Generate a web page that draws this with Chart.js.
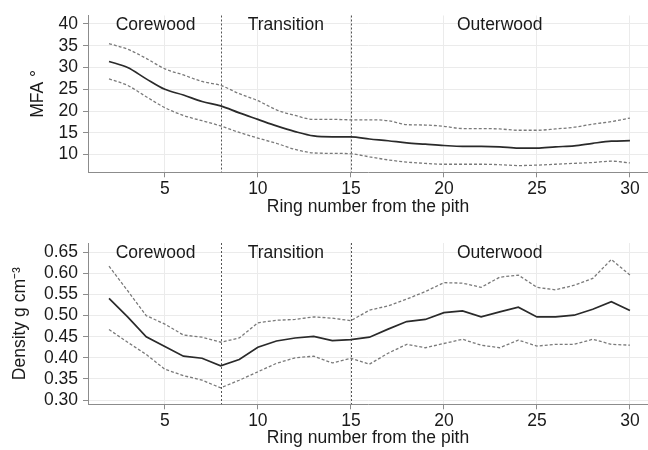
<!DOCTYPE html>
<html>
<head>
<meta charset="utf-8">
<script src="https://cdn.jsdelivr.net/npm/chart.js@4"></script>
<style>
  html, body { margin: 0; padding: 0; background: #fff; }
  .panel { position: relative; width: 648px; height: 225px; }
</style>
</head>
<body>
<div class="panel"><canvas id="mfaChart"></canvas></div>
<div class="panel"><canvas id="densityChart"></canvas></div>
<script>
// ring number from the pith (x values)
const rings = [2, 3, 4, 5, 6, 7, 8, 9, 10, 11, 12, 13, 14, 15, 16, 17, 18, 19, 20, 21, 22, 23, 24, 25, 26, 27, 28, 29, 30];

// microfibril angle, mean and band
const mfaMean  = [31.4, 30.0, 27.4, 25.0, 23.7, 22.2, 21.2, 19.6, 18.1, 16.6, 15.3, 14.3, 14.1, 14.1, 13.6, 13.2, 12.7, 12.4, 12.1, 11.9, 11.9, 11.8, 11.5, 11.5, 11.8, 12.0, 12.6, 13.1, 13.2];
const mfaUpper = [35.5, 34.2, 32.1, 29.7, 28.3, 26.8, 25.9, 24.0, 22.4, 20.3, 19.0, 18.1, 18.1, 18.0, 18.0, 17.8, 16.9, 16.8, 16.5, 16.0, 16.0, 15.9, 15.6, 15.6, 15.9, 16.3, 17.0, 17.6, 18.4];
const mfaLower = [27.4, 25.9, 23.3, 20.8, 19.0, 17.8, 16.6, 15.1, 13.8, 12.6, 11.2, 10.4, 10.3, 10.2, 9.5, 8.8, 8.3, 8.0, 7.8, 7.8, 7.8, 7.7, 7.5, 7.6, 7.8, 8.0, 8.2, 8.5, 8.1];

// density, mean and band
const densityMean  = [0.541, 0.497, 0.450, 0.427, 0.404, 0.399, 0.381, 0.396, 0.425, 0.440, 0.447, 0.451, 0.441, 0.443, 0.449, 0.468, 0.486, 0.491, 0.507, 0.511, 0.497, 0.509, 0.520, 0.497, 0.497, 0.501, 0.515, 0.533, 0.512];
const densityUpper = [0.617, 0.559, 0.500, 0.480, 0.454, 0.449, 0.437, 0.447, 0.483, 0.489, 0.491, 0.497, 0.494, 0.488, 0.513, 0.523, 0.539, 0.557, 0.578, 0.577, 0.567, 0.591, 0.596, 0.567, 0.561, 0.572, 0.588, 0.633, 0.596];
const densityLower = [0.467, 0.437, 0.408, 0.373, 0.358, 0.347, 0.329, 0.347, 0.367, 0.387, 0.400, 0.404, 0.388, 0.399, 0.385, 0.411, 0.432, 0.424, 0.434, 0.444, 0.430, 0.424, 0.442, 0.428, 0.432, 0.432, 0.444, 0.432, 0.430];

// tick labels
const xTicks = [5, 10, 15, 20, 25, 30];
const mfaTicks = [10, 15, 20, 25, 30, 35, 40];
const densityTicks = [0.30, 0.35, 0.40, 0.45, 0.50, 0.55, 0.60, 0.65];

// wood zones
const zoneNames = ['Corewood', 'Transition', 'Outerwood'];
const zoneCenters = [4.5, 11.5, 23];
const zoneBounds = [8, 15];

const FONT = 'Liberation Sans, Arial, Helvetica, sans-serif';
const font = { family: FONT, size: 17.5 };

// dashed zone borders and zone names
const zonePlugin = {
    id: 'zones',
    beforeDatasetsDraw(chart) {
        const { ctx, chartArea, scales: { x } } = chart;
        ctx.save();
        ctx.strokeStyle = '#555';
        ctx.lineWidth = 1;
        ctx.setLineDash([2, 2]);
        zoneBounds.forEach((b) => {
            const px = Math.round(x.getPixelForValue(b)) + 0.5;
            ctx.beginPath();
            ctx.moveTo(px, chartArea.top);
            ctx.lineTo(px, chartArea.bottom);
            ctx.stroke();
        });
        ctx.restore();
    },
    afterDatasetsDraw(chart, args, opts) {
        const { ctx, scales: { x, y } } = chart;
        const py = y.getPixelForValue(opts.labelAt);
        ctx.save();
        ctx.fillStyle = '#1a1a1a';
        ctx.font = `17.5px ${FONT}`;
        ctx.textAlign = 'center';
        ctx.textBaseline = 'middle';
        zoneNames.forEach((name, i) => {
            ctx.fillText(name, x.getPixelForValue(zoneCenters[i]), py + 1);
        });
        ctx.restore();
    }
};

const band = (data, solid) => ({
    data: rings.map((r, i) => ({ x: r, y: data[i] })),
    borderColor: solid ? '#2a2a2a' : '#7a7a7a',
    borderWidth: solid ? 1.7 : 1.3,
    borderDash: solid ? [] : [3, 2],
    pointRadius: 0,
    fill: false,
});

const makeChart = (id, cfg) => new Chart(document.getElementById(id), {
    type: 'line',
    data: {
        datasets: [band(cfg.upper, false), band(cfg.lower, false), band(cfg.mean, true)]
    },
    options: {
        responsive: true,
        maintainAspectRatio: false,
        animation: false,
        cubicInterpolationMode: cfg.smooth ? 'monotone' : 'default',
        layout: { padding: { top: cfg.top, right: 0, left: 0, bottom: 0 } },
        plugins: {
            legend: { display: false },
            tooltip: { enabled: false },
            zones: { labelAt: cfg.ticks[cfg.ticks.length - 1] },
        },
        scales: {
            x: {
                type: 'linear',
                min: 0.87,
                max: 30.97,
                afterBuildTicks: (s) => { s.ticks = xTicks.map(v => ({ value: v })); },
                afterFit: (s) => { s.height = cfg.xHeight; },
                grid: { color: '#ebebeb', tickColor: '#8c8c8c', tickLength: 5 },
                border: { color: '#8c8c8c' },
                ticks: { font, color: '#1a1a1a', padding: 1, maxRotation: 0, autoSkip: false },
                title: {
                    display: true,
                    text: 'Ring number from the pith',
                    font, color: '#1a1a1a',
                    padding: { top: 0, bottom: cfg.xTitlePad },
                },
            },
            y: {
                min: cfg.min,
                max: cfg.max,
                afterBuildTicks: (s) => { s.ticks = cfg.ticks.map(v => ({ value: v })); },
                afterFit: (s) => { s.width = 88; },
                grid: { color: '#ebebeb', tickColor: '#8c8c8c', tickLength: 5 },
                border: { color: '#8c8c8c' },
                ticks: { font, color: '#1a1a1a', padding: 5, autoSkip: false, callback: cfg.fmt },
                title: {
                    display: true,
                    text: cfg.yTitle,
                    font, color: '#1a1a1a',
                    padding: { top: cfg.yTitlePad, bottom: 0 },
                },
            }
        }
    },
    plugins: [zonePlugin]
});

makeChart('mfaChart', {
    mean: mfaMean, upper: mfaUpper, lower: mfaLower,
    smooth: true,
    min: 5.95, max: 41.95,
    ticks: mfaTicks,
    fmt: (v) => v,
    yTitle: 'MFA °',
    top: 12, xHeight: 52.7, xTitlePad: 7.5, yTitlePad: 27.5,
});

makeChart('densityChart', {
    mean: densityMean, upper: densityUpper, lower: densityLower,
    smooth: false,
    min: 0.29, max: 0.672,
    ticks: densityTicks,
    fmt: (v) => v.toFixed(2),
    yTitle: 'Density g cm⁻³',
    top: 18, xHeight: 45.7, xTitlePad: 1, yTitlePad: 9.5,
});
</script>
</body>
</html>
